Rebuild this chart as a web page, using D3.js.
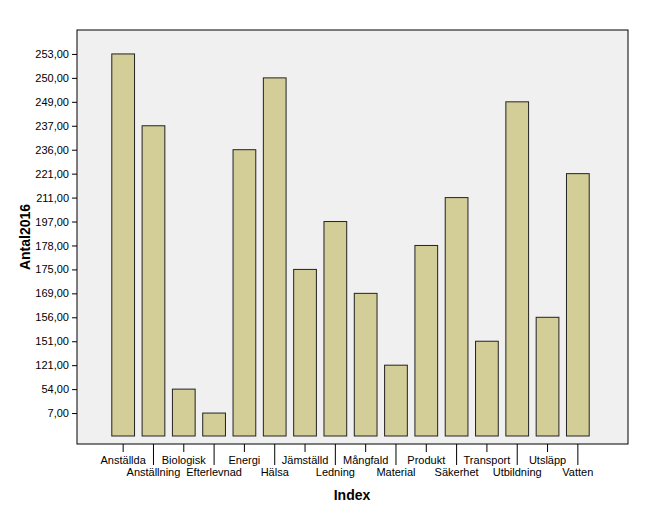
<!DOCTYPE html>
<html><head><meta charset="utf-8">
<script src="https://cdn.jsdelivr.net/npm/d3@7"></script>
<style>body{margin:0;background:#fff;font-family:Arial,"Liberation Sans",sans-serif}</style>
</head><body><div id="viz-container"></div>
<script>
let categories = ["Anställda","Anställning","Biologisk","Efterlevnad","Energi","Hälsa","Jämställd","Ledning","Mångfald","Material","Produkt","Säkerhet","Transport","Utbildning","Utsläpp","Vatten"];
let values = [253,237,54,7,236,250,175,197,169,121,178,211,151,249,156,221];
let yTicks = [7,54,121,151,156,169,175,178,197,211,221,236,237,249,250,253];

let viz = d3.select("#viz-container").append("svg").attr("width",656).attr("height",523);
viz.append("rect").attr("x",77).attr("y",30).attr("width",551).attr("height",414)
    .attr("fill","#f0f0f0").attr("stroke","#000").attr("stroke-width",1);

let xScale = d3.scaleBand().domain(categories).range([108,593]).paddingInner(0.25).paddingOuter(0.125);
let yScale = d3.scalePoint().domain(yTicks.map(String)).range([437,30]).padding(1);
let fmt = v => v.toFixed(2).replace(".",",");

// bars
viz.selectAll(".bar").data(values).enter().append("rect")
    .attr("x",(d,i)=>xScale(categories[i]))
    .attr("width",xScale.bandwidth())
    .attr("y",d=>yScale(String(d)))
    .attr("height",d=>436-yScale(String(d)))
    .attr("fill","#d3ce97").attr("stroke","#222").attr("stroke-width",1);

// y axis
let yAxis = viz.append("g").attr("transform","translate(77,0)")
    .call(d3.axisLeft(yScale).tickSize(5).tickFormat(d=>fmt(+d)));
yAxis.select(".domain").remove();
yAxis.selectAll("text").attr("font-size",11).attr("font-family","Arial,'Liberation Sans',sans-serif").attr("fill","#000");

// x axis, staggered
let xg = viz.append("g");
categories.forEach((c,i)=>{
    let cx = xScale(c)+xScale.bandwidth()/2;
    let long = i%2===1;
    xg.append("line").attr("x1",cx).attr("x2",cx).attr("y1",444).attr("y2",long?465:452).attr("stroke","#000");
    xg.append("text").attr("x",cx).attr("y",long?476:464).attr("text-anchor","middle")
        .attr("font-size",11).text(c);
});

viz.append("text").attr("x",352).attr("y",500).attr("text-anchor","middle")
    .attr("font-size",14).attr("font-weight","bold").text("Index");
viz.append("text").attr("transform","translate(30,237) rotate(-90)").attr("text-anchor","middle")
    .attr("font-size",14).attr("font-weight","bold").text("Antal2016");
</script></body></html>
